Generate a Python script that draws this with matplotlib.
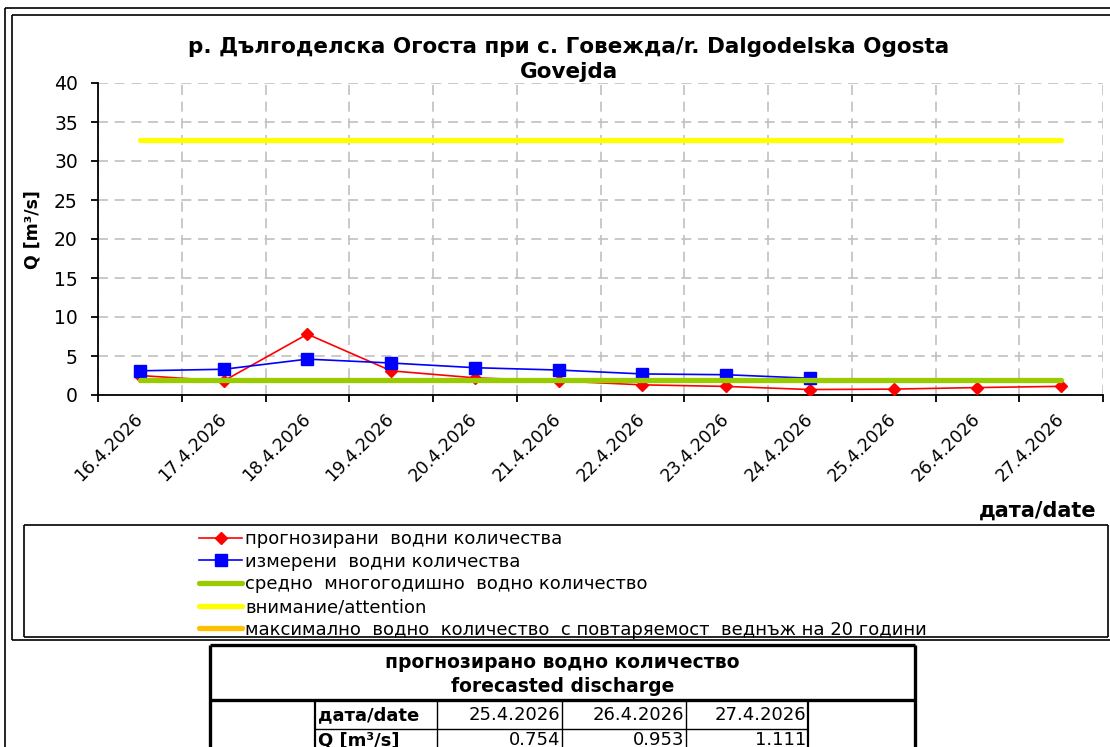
import matplotlib
matplotlib.use('Agg')
import matplotlib.pyplot as plt
from matplotlib.lines import Line2D

# ---------------- data ----------------
dates = ['16.4.2026', '17.4.2026', '18.4.2026', '19.4.2026', '20.4.2026', '21.4.2026',
         '22.4.2026', '23.4.2026', '24.4.2026', '25.4.2026', '26.4.2026', '27.4.2026']
forecast = [2.5, 1.8, 7.8, 3.1, 2.2, 1.8, 1.3, 1.1, 0.7, 0.754, 0.953, 1.111]
measured = [3.1, 3.3, 4.6, 4.1, 3.5, 3.2, 2.7, 2.6, 2.15]
mean_q = 1.9
attention_q = 32.7
yticks = [0, 5, 10, 15, 20, 25, 30, 35, 40]

title_lines = ['р. Дългоделска Огоста при с. Говежда/r. Dalgodelska Ogosta', 'Govejda']
legend_labels = ['прогнозирани  водни количества',
                 'измерени  водни количества',
                 'средно  многогодишно  водно количество',
                 'внимание/attention',
                 'максимално  водно  количество  с повтаряемост  веднъж на 20 години']
table_title = ['прогнозирано водно количество', 'forecasted discharge']
table_dates = dates[-3:]
table_values = forecast[-3:]

# ---------------- figure ----------------
plt.rcParams['font.family'] = ['DejaVu Sans']
W, H = 1110, 747
fig = plt.figure(figsize=(W / 100, H / 100), dpi=100)


def fx(p):
    return p / W


def fy(p):
    return 1 - p / H


def fline(x0, y0, x1, y1, lw=1.0, color='black'):
    fig.add_artist(Line2D([fx(x0), fx(x1)], [fy(y0), fy(y1)], transform=fig.transFigure,
                          color=color, lw=lw, solid_capstyle='butt'))


# frames
fline(5, 8, 1115, 8, lw=1.2)
fline(5, 8, 5, 760, lw=1.2)
fline(12, 15, 1115, 15, lw=1.2)
fline(12, 15, 12, 640, lw=1.2)
fline(12, 640, 1115, 640, lw=1.2)
# legend box
fline(24, 525, 1108, 525, lw=1.2)
fline(24, 637, 1108, 637, lw=1.2)
fline(24, 525, 24, 637, lw=1.2)
fline(1108, 525, 1108, 637, lw=1.2)

# ---------------- axes ----------------
ax = fig.add_axes([fx(98), fy(395), fx(1103) - fx(98), fy(83) - fy(395)])
x = list(range(len(dates)))
l_fc, = ax.plot(x, forecast, color='#FF0000', lw=1.2, marker='D', ms=6.5, zorder=3)
l_ms, = ax.plot(x[:len(measured)], measured, color='#0000FF', lw=1.2, marker='s', ms=8, zorder=3)
l_mean, = ax.plot(x, [mean_q] * len(x), color='#99CC00', lw=3.8, solid_capstyle='round', zorder=4)
l_att, = ax.plot(x, [attention_q] * len(x), color='#FFFF00', lw=3.8, solid_capstyle='round', zorder=4)
l_max = Line2D([], [], color='#FFC000', lw=3.8, solid_capstyle='round')

ax.set_xlim(-0.5, len(dates) - 0.5)
ax.set_ylim(0, 40)
ax.set_yticks(yticks)
ax.set_yticklabels([str(v) for v in yticks], fontsize=13.5)
ax.set_xticks([i - 0.5 for i in range(len(dates) + 1)])
ax.set_xticklabels([])
ax.set_xticks(x, minor=True)
ax.set_xticklabels(dates, minor=True, rotation=45, ha='right', va='center',
                   rotation_mode='anchor', fontsize=12.5)
ax.tick_params(axis='x', which='minor', length=0, pad=15)
ax.tick_params(axis='x', which='major', length=5, width=1.3, direction='out')
ax.tick_params(axis='y', length=5, width=1.3, direction='out', pad=9.5)
ax.grid(True, which='major', color='#C0C0C0', ls=(0, (6, 4)), lw=1.2, zorder=0)
ax.set_axisbelow(True)
for s in ['top', 'right']:
    ax.spines[s].set_visible(False)
for s in ['left', 'bottom']:
    ax.spines[s].set_linewidth(1.3)

# titles / labels
fig.text(fx(569), fy(47), title_lines[0], ha='center', va='center', fontsize=15.5, fontweight='bold')
fig.text(fx(569), fy(72), title_lines[1], ha='center', va='center', fontsize=15.5, fontweight='bold')
fig.text(fx(32), fy(230), 'Q [m³/s]', rotation=90, ha='center', va='center', fontsize=12.5, fontweight='bold')
fig.text(fx(1097), fy(511), 'дата/date', ha='right', va='center', fontsize=15, fontweight='bold')

# legend
fig.legend([l_fc, l_ms, l_mean, l_att, l_max], legend_labels, loc='upper left',
           bbox_to_anchor=(fx(199), fy(530)), frameon=False, prop={'size': 13},
           handlelength=2.4, handletextpad=0.15, labelspacing=0.26,
           borderpad=0, borderaxespad=0)

# ---------------- table ----------------
fline(210, 645, 915, 645, lw=2.4)
fline(210, 645, 210, 760, lw=2.4)
fline(915, 645, 915, 760, lw=2.4)
fline(210, 700, 915, 700, lw=2.4)
for xv, w in [(315, 1.6), (437, 1.0), (562, 1.0), (686, 1.0), (808, 1.6)]:
    fline(xv, 700, xv, 760, lw=w)
fline(315, 729, 808, 729, lw=1.0)

fig.text(fx(562.5), fy(663), table_title[0], ha='center', va='center', fontsize=13.5,
         fontweight='bold')
fig.text(fx(562.5), fy(687), table_title[1], ha='center', va='center', fontsize=13.5,
         fontweight='bold')
fig.text(fx(318), fy(715), 'дата/date', ha='left', va='center', fontsize=13,
         fontweight='bold')
fig.text(fx(318), fy(740), 'Q [m³/s]', ha='left', va='center', fontsize=13,
         fontweight='bold')
for xr, d, v in zip([560, 684, 806], table_dates, table_values):
    fig.text(fx(xr), fy(715), d, ha='right', va='center', fontsize=13)
    fig.text(fx(xr), fy(740), f'{v:.3f}', ha='right', va='center', fontsize=13)

fig.savefig('out.png', dpi=100)
